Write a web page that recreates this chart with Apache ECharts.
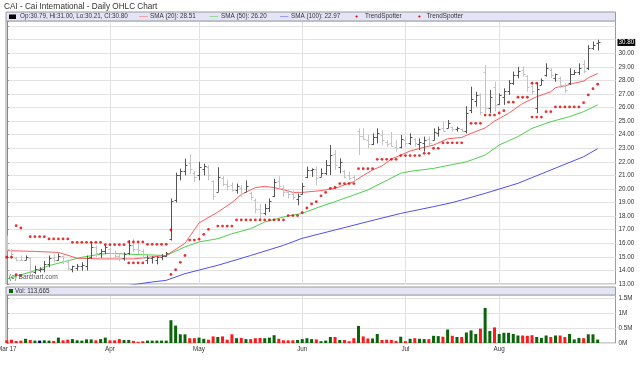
<!DOCTYPE html>
<html><head><meta charset="utf-8">
<script src="https://cdn.jsdelivr.net/npm/echarts@6/dist/echarts.min.js"></script>
<style>html,body{margin:0;padding:0;background:#fff}#c{width:640px;height:366px}</style>
</head><body><div id="c"></div>
<script>
// ---- data (index 0 = Mar 2 2017, last = Aug 30 2017) ----
const tickIndex  = [0, 22, 41, 63, 85, 105];
const tickLabels = ['Mar 17', 'Apr', 'May', 'Jun', 'Jul', 'Aug'];

const open = [16.2,15.5,14.95,14.8,14.8,14.9,13.9,14.0,14.1,14.5,14.9,14.8,15.05,14.6,14.1,14.2,14.3,14.3,15.0,15.7,
15.3,15.4,15.6,15.3,15.1,14.9,15.3,15.9,15.6,15.4,14.8,14.9,14.8,15.0,15.1,16.3,19.2,21.0,21.3,21.9,
21.2,21.0,21.5,21.6,20.6,19.8,20.8,20.4,20.3,19.9,20.1,19.8,19.7,19.2,18.5,18.2,18.6,19.5,20.6,20.1,
19.8,19.6,19.3,19.6,20.9,21.4,21.5,20.9,21.2,21.8,22.6,21.6,21.3,21.0,20.9,24.3,23.9,23.6,23.3,23.8,
24.0,23.5,23.4,23.1,23.1,23.6,23.4,23.7,23.3,23.4,23.7,23.6,24.1,24.5,24.5,24.6,24.4,24.45,24.3,25.8,
26.5,26.9,28.6,26.0,27.5,26.3,26.8,27.2,27.8,28.4,28.8,28.3,27.6,26.0,27.7,28.4,28.8,28.2,28.2,27.6,
27.8,28.5,28.6,29.2,28.9,30.4,30.79];
const high = [16.56,15.58,15.0,15.1,15.1,14.95,14.35,14.23,14.7,15.1,15.2,15.26,15.1,14.72,14.35,14.47,14.6,15.1,16.07,15.83,
15.58,15.9,15.65,15.46,15.2,15.33,16.24,16.3,16.15,15.58,15.1,15.05,15.05,15.2,15.36,19.3,21.2,21.5,22.24,22.56,
21.33,22.0,21.87,21.75,20.64,21.6,20.94,20.7,20.5,20.4,20.27,20.64,19.78,19.3,18.9,18.9,19.3,20.76,20.94,20.27,
20.0,19.9,19.66,20.45,21.65,21.52,21.65,21.52,22.14,23.24,22.87,22.26,21.4,21.28,21.03,24.47,24.47,23.98,24.1,24.47,
24.35,23.6,24.2,23.6,23.98,23.86,24.1,23.73,23.73,23.86,23.86,24.47,24.6,24.96,25.08,24.6,24.6,24.47,26.1,27.54,
27.17,27.05,29.14,27.3,27.9,27.05,27.42,28.03,28.65,29.0,29.0,28.4,27.9,27.8,28.15,29.26,28.9,28.5,28.28,27.79,
28.9,28.77,29.26,29.5,30.6,30.86,31.00];
const low = [15.46,14.92,14.67,14.72,14.77,13.5,13.74,13.86,13.86,14.23,14.6,14.72,14.47,13.98,13.86,13.98,13.98,14.0,14.84,15.0,
14.92,15.2,14.92,14.84,14.67,14.72,15.16,15.33,15.2,14.84,14.47,14.5,14.45,14.75,15.0,16.2,19.0,20.64,21.0,21.13,
20.52,20.64,21.0,20.64,19.2,19.8,20.2,19.9,19.8,19.66,19.4,19.78,19.17,18.2,17.8,18.06,18.3,19.4,20.0,19.4,
19.3,19.17,18.8,19.6,20.8,20.9,20.3,20.9,21.03,21.03,21.4,21.16,20.79,20.66,20.66,22.5,23.6,23.0,23.24,23.36,
23.24,23.1,23.1,22.75,23.0,23.12,23.24,23.12,22.87,22.75,23.12,23.6,23.86,24.23,24.47,24.23,24.23,24.2,24.1,25.58,
26.07,25.45,25.58,25.58,25.7,26.2,26.2,26.93,27.67,28.15,28.28,27.17,26.93,25.58,27.66,28.28,28.16,27.9,27.42,27.05,
27.66,28.4,28.4,28.52,28.77,30.25,30.21];
const close = [15.6,15.2,14.8,14.75,15.0,13.9,14.1,14.1,14.5,14.9,14.8,15.1,14.7,14.2,14.3,14.35,14.4,14.9,15.7,15.3,
15.4,15.7,15.3,15.1,14.9,15.2,15.9,15.6,15.5,14.9,14.95,14.98,15.0,15.1,15.25,19.1,21.0,21.3,21.8,21.5,
20.9,21.6,21.7,21.0,19.5,20.9,20.4,20.2,19.9,20.2,19.7,20.2,19.4,18.5,18.2,18.6,19.1,20.5,20.2,19.8,
19.6,19.4,19.5,20.2,21.4,21.5,20.8,21.2,21.8,22.5,21.8,22.0,20.9,20.8,20.7,23.9,23.7,23.3,23.8,24.1,
23.6,23.3,23.2,23.0,23.7,23.4,23.8,23.4,23.5,23.6,23.4,24.2,24.4,24.3,24.9,24.4,24.5,24.3,25.6,26.6,
26.9,25.7,26.0,26.8,26.2,26.9,27.2,27.8,28.4,28.7,28.5,27.5,27.2,27.4,28.0,28.9,28.4,28.45,27.7,27.3,
28.5,28.6,28.9,28.7,30.4,30.6,30.80];
const volume = [90000,110000,70000,80000,140000,100000,80000,80000,90000,80000,
70000,180000,90000,110000,130000,90000,80000,120000,120000,90000,
130000,180000,90000,90000,130000,100000,100000,70000,40000,60000,
80000,80000,80000,80000,80000,760000,580000,290000,290000,160000,
160000,180000,140000,110000,220000,200000,220000,110000,290000,160000,
170000,130000,130000,160000,170000,160000,180000,260000,140000,90000,
90000,90000,100000,130000,160000,130000,120000,60000,80000,200000,
200000,100000,100000,60000,160000,570000,220000,150000,150000,300000,
100000,110000,100000,70000,210000,60000,140000,160000,140000,130000,
130000,240000,230000,210000,450000,240000,200000,200000,350000,420000,
300000,480000,1170000,400000,520000,300000,340000,340000,300000,250000,
250000,240000,260000,200000,170000,250000,200000,250000,250000,200000,
300000,120000,170000,160000,290000,290000,113665];

// moving averages: [bar index, value]
const sma20 = [[0,15.46],[6,15.4],[11,15.33],[15,14.9],[20,14.85],[27,14.85],[31,15.0],[34,15.1],[38,16.0],[41,17.5],[45,18.3],[48,19.0],[50,19.6],[53,20.1],[55,20.2],[57,20.1],[59,19.95],[61,19.75],[63,19.75],[67,19.88],[70,20.05],[72,20.3],[74,20.55],[76,21.0],[78,21.4],[80,21.7],[82,22.2],[84,22.5],[86,22.8],[89,23.07],[91,23.24],[94,23.7],[97,23.8],[99,24.1],[102,24.5],[104,25.0],[107,25.58],[110,26.3],[113,26.8],[116,27.17],[117,27.47],[119,27.6],[121,27.8],[123,27.95],[124,28.2],[126,28.51]];
const sma50 = [[0,13.37],[6,13.98],[9,14.35],[13,14.72],[16,14.97],[20,15.2],[22,15.26],[26,15.2],[29,15.16],[34,15.1],[38,15.73],[41,16.1],[45,16.34],[48,16.7],[52,17.08],[55,17.57],[59,17.94],[63,18.2],[66,18.6],[70,19.07],[77,19.93],[84,21.16],[86,21.3],[91,21.52],[95,21.8],[98,22.0],[102,22.5],[105,23.24],[109,23.86],[112,24.47],[116,24.96],[120,25.33],[123,25.7],[126,26.2]];
const sma100 = [[26,12.9],[31,13.15],[34,13.27],[38,13.76],[45,14.38],[52,15.1],[59,15.85],[63,16.37],[70,16.98],[77,17.6],[84,18.2],[91,18.7],[95,19.0],[97,19.19],[102,19.68],[109,20.42],[116,21.4],[123,22.38],[126,22.97]];

// TrendSpotter dots: [bar index, value]
const trendA = [[2,17.3],[3,17.13],[5,16.49],[6,16.49],[7,16.49],[8,16.49],[9,16.32],[10,16.32],[11,16.32],[12,16.32],[13,16.32],
[14,16.07],[15,16.07],[16,16.07],[17,16.07],[18,16.07],[19,16.07],[20,16.07],[21,15.9],[22,15.9],[23,15.9],[24,15.9],[25,15.9],
[26,16.1],[27,16.1],[28,16.1],[29,16.1],[30,15.92],[31,15.92],[32,15.92],[33,15.92],[34,15.92],[35,16.98],[112,27.8],[113,27.8]];
const trendB = [[0,14.97],[1,14.97],[2,13.69],[3,13.62],[26,14.55],[27,14.55],[28,14.55],[29,14.55],[35,13.7],[36,14.05],[37,14.6],[38,15.1],
[39,16.24],[40,16.24],[41,16.3],[42,16.66],[43,17.03],[45,17.27],[46,17.27],[47,17.27],[48,17.27],
[49,17.72],[50,17.72],[51,17.72],[52,17.72],[53,17.72],[54,17.72],[55,17.72],[56,17.72],[57,17.72],[58,17.72],[59,17.72],
[60,18.04],[61,18.04],[62,18.04],[63,18.26],[64,18.6],[65,18.9],[66,19.07],[67,19.5],[68,19.75],[69,20.05],[70,20.12],
[71,20.4],[72,20.4],[73,20.4],[74,20.4],[75,21.5],[76,21.5],[77,21.5],[78,21.5],[79,22.19],[80,22.19],[81,22.19],[82,22.19],[83,22.19],
[84,22.46],[85,22.46],[86,22.46],[87,22.46],[88,22.46],[89,22.63],[90,22.63],[91,23.0],[92,23.0],[93,23.4],[94,23.4],[95,23.4],[96,23.4],[97,23.4],
[99,24.84],[100,24.84],[101,24.84],[102,25.45],[103,25.45],[104,25.45],[105,25.6],[106,25.77],[107,26.4],[108,26.4],
[109,26.76],[110,26.76],[111,26.76],[112,25.3],[113,25.3],[114,25.3],[115,25.7],[116,25.7],
[117,26.05],[118,26.05],[119,26.05],[120,26.05],[121,26.05],[122,26.05],[123,26.36],[124,26.93],[125,27.39],[126,27.72]];

// ---- chart ----
const FONT = '"Liberation Sans", Arial, sans-serif';
const SMALL = 6.3;
const C20 = '#ff5c5c', C50 = '#4fcf4f', C100 = '#5050f0', CDOT = '#dd0000';
const DARK = '#555555', LIGHT = '#c4c4c4';
const UP = '#0a650a', DOWN = '#ff1a1a', FLAT = '#000080';

const ohlc = open.map((o, i) => [i, o, high[i], low[i], close[i]]);
const vols = volume.map((v, i) => [i, v]);
const last = close.length - 1;
const volColor = i => {
  const prev = i > 0 ? close[i - 1] : open[i];
  return close[i] > prev ? UP : (close[i] < prev ? DOWN : FLAT);
};
const lastVal = a => a[a.length - 1][1];

const chart = echarts.init(document.getElementById('c'), null, {renderer: 'canvas'});

const xCommon = {
  type: 'value', min: -0.17, max: 129.8,
  axisLine: {show: false},
  axisTick: {show: false, customValues: tickIndex},
  splitLine: {show: true, lineStyle: {color: '#e2e2e2', width: 1}}
};

const legendY = 16.5;
const txt = (x, y, s, size, fill) => ({type: 'text', x: x, y: y, z: 11,
  style: {text: s, font: size + 'px ' + FONT, fill: fill || '#333', verticalAlign: 'middle'}});
const hdr = [
  txt(4, 6.5, 'CAI - Cai International - Daily OHLC Chart', 8.2, '#333'),
  {type: 'rect', shape: {x: 6, y: 12, width: 609.5, height: 9}, style: {fill: '#e4e4f7', stroke: '#9a9a9a', lineWidth: 1}, z: 10},
  {type: 'rect', shape: {x: 9, y: 14.5, width: 7, height: 4.5}, style: {fill: '#000'}, z: 11},
  txt(20, legendY, 'Op:' + open[last].toFixed(2) + ', Hi:' + high[last].toFixed(2) + ', Lo:' + low[last].toFixed(2) + ', Cl:' + close[last].toFixed(2), SMALL),
  {type: 'line', shape: {x1: 139, y1: legendY, x2: 148, y2: legendY}, style: {stroke: '#f7a0a0', lineWidth: 1}, z: 11},
  txt(150, legendY, 'SMA (20): ' + lastVal(sma20).toFixed(2), SMALL),
  {type: 'line', shape: {x1: 209.5, y1: legendY, x2: 218, y2: legendY}, style: {stroke: '#90dc90', lineWidth: 1}, z: 11},
  txt(221, legendY, 'SMA (50): ' + lastVal(sma50).toFixed(2), SMALL),
  {type: 'line', shape: {x1: 280, y1: legendY, x2: 288.5, y2: legendY}, style: {stroke: '#9a9af5', lineWidth: 1}, z: 11},
  txt(291, legendY, 'SMA (100): ' + lastVal(sma100).toFixed(2), SMALL),
  {type: 'circle', shape: {cx: 356.6, cy: legendY, r: 1.1}, style: {fill: CDOT}, z: 11},
  txt(365, legendY, 'TrendSpotter', SMALL),
  {type: 'circle', shape: {cx: 419.4, cy: legendY, r: 1.1}, style: {fill: CDOT}, z: 11},
  txt(426.5, legendY, 'TrendSpotter', SMALL),
  txt(9, 277, '(c) Barchart.com', 6.6, '#555'),
  {type: 'rect', shape: {x: 6, y: 287, width: 609.5, height: 8}, style: {fill: '#e4e4f7', stroke: '#9a9a9a', lineWidth: 1}, z: 10},
  {type: 'rect', shape: {x: 9, y: 289, width: 4, height: 4}, style: {fill: UP}, z: 11},
  txt(15, 291, 'Vol: ' + volume[last].toLocaleString('en-US'), SMALL)
];

chart.setOption({
  animation: false,
  backgroundColor: '#fff',
  textStyle: {fontFamily: FONT},
  grid: [
    {left: 6, right: 24.5, top: 21, bottom: 82, show: true, borderColor: '#9a9a9a', borderWidth: 1, containLabel: false, outerBoundsMode: 'none'},
    {left: 6, right: 24.5, top: 295, bottom: 23, show: true, borderColor: '#9a9a9a', borderWidth: 1, containLabel: false, outerBoundsMode: 'none'}
  ],
  xAxis: [
    Object.assign({}, xCommon, {gridIndex: 0, axisLabel: {show: false, customValues: tickIndex}}),
    Object.assign({}, xCommon, {gridIndex: 1, axisLabel: {show: true, customValues: tickIndex, fontSize: SMALL, color: '#333', margin: 3,
      alignMinLabel: 'center', formatter: v => tickLabels[tickIndex.indexOf(Math.round(v))] || ''}})
  ],
  yAxis: [
    {gridIndex: 0, type: 'value', position: 'right', min: 13, max: 32.38, interval: 1,
     axisLine: {show: true, lineStyle: {color: '#8a8a8a'}},
     axisTick: {show: true, length: 2, lineStyle: {color: '#8a8a8a'}},
     axisLabel: {fontSize: SMALL, color: '#333', margin: 3, formatter: v => v <= 30.5 ? v.toFixed(2) : ''},
     splitLine: {lineStyle: {color: '#e2e2e2'}}},
    {gridIndex: 1, type: 'value', position: 'right', min: 0, max: 1600000, interval: 500000,
     axisLine: {show: true, lineStyle: {color: '#8a8a8a'}},
     axisTick: {show: true, length: 2, lineStyle: {color: '#8a8a8a'}},
     axisLabel: {fontSize: SMALL, color: '#333', margin: 3, formatter: v => (v % 500000 === 0) ? (v / 1e6) + 'M' : ''},
     splitLine: {lineStyle: {color: '#e2e2e2'}}}
  ],
  series: [
    {name: 'SMA (100)', type: 'line', xAxisIndex: 0, yAxisIndex: 0, data: sma100, showSymbol: false, silent: true, z: 3,
     lineStyle: {color: C100, width: 1}},
    {name: 'SMA (50)', type: 'line', xAxisIndex: 0, yAxisIndex: 0, data: sma50, showSymbol: false, silent: true, z: 3,
     lineStyle: {color: C50, width: 1}},
    {name: 'SMA (20)', type: 'line', xAxisIndex: 0, yAxisIndex: 0, data: sma20, showSymbol: false, silent: true, z: 3,
     lineStyle: {color: C20, width: 1}},
    {name: 'OHLC', type: 'custom', xAxisIndex: 0, yAxisIndex: 0, data: ohlc, clip: true, z: 4,
     encode: {x: 0, y: [1, 2, 3, 4]},
     renderItem: (params, api) => {
       const i = api.value(0);
       const o = api.coord([i, api.value(1)]);
       const h = api.coord([i, api.value(2)]);
       const l = api.coord([i, api.value(3)]);
       const c = api.coord([i, api.value(4)]);
       const x = Math.round(h[0]) + 0.5;
       const col = api.value(4) < api.value(1) ? LIGHT : DARK;
       const oy = Math.round(o[1]) + 0.5, cy = Math.round(c[1]) + 0.5;
       return {type: 'group', children: [
         {type: 'line', shape: {x1: x, y1: h[1], x2: x, y2: l[1]}, style: {stroke: col, lineWidth: 1}},
         {type: 'line', shape: {x1: x - 2, y1: oy, x2: x, y2: oy}, style: {stroke: col, lineWidth: 1}},
         {type: 'line', shape: {x1: x, y1: cy, x2: x + 2, y2: cy}, style: {stroke: col, lineWidth: 1}}
       ]};
     }},
    {name: 'Last', type: 'line', xAxisIndex: 0, yAxisIndex: 0, data: [[last, close[last]]], showSymbol: false, silent: true,
     lineStyle: {color: 'rgba(0,0,0,0)'}, z: 6,
     markLine: {silent: true, symbol: ['none', 'none'], animation: false,
       data: [{yAxis: close[last]}],
       lineStyle: {color: 'rgba(0,0,0,0)', type: 'solid', width: 1},
       label: {show: true, position: 'end', distance: 2, opacity: 1, formatter: () => close[last].toFixed(2),
         backgroundColor: '#000', color: '#fff', fontSize: SMALL, padding: [1, 1, 0, 1]}}},
    {name: 'TrendSpotter', type: 'scatter', xAxisIndex: 0, yAxisIndex: 0, data: trendA, symbol: 'circle', symbolSize: 2.8, z: 5,
     itemStyle: {color: CDOT}, silent: true},
    {name: 'TrendSpotter ', type: 'scatter', xAxisIndex: 0, yAxisIndex: 0, data: trendB, symbol: 'circle', symbolSize: 2.8, z: 5,
     itemStyle: {color: CDOT}, silent: true},
    {name: 'Vol', type: 'bar', xAxisIndex: 1, yAxisIndex: 1, data: vols, barWidth: 3, silent: true,
     itemStyle: {color: p => volColor(p.dataIndex)}}
  ],
  graphic: hdr
});
</script></body></html>
